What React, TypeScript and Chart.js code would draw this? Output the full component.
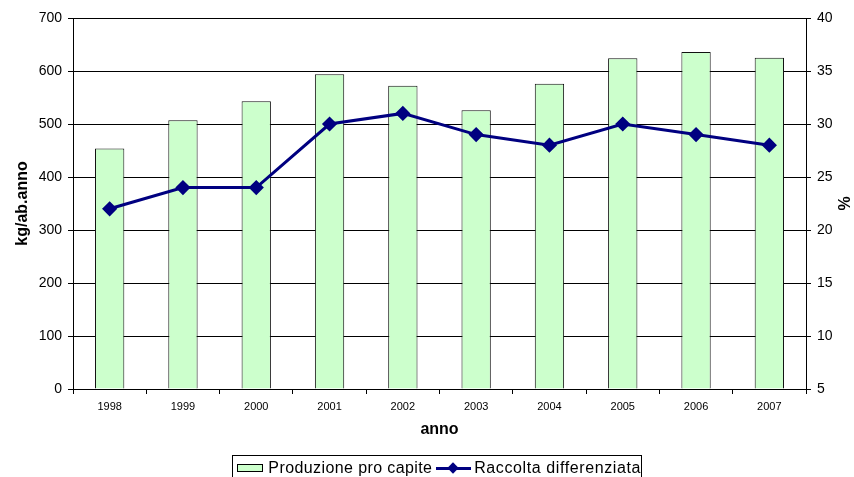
import React, { useEffect, useRef } from "react";
import { Chart, registerables } from "chart.js";

Chart.register(...registerables);

const years = ["1998", "1999", "2000", "2001", "2002", "2003", "2004", "2005", "2006", "2007"];
const produzione = [454, 507, 543, 594, 572, 526, 576, 624, 636, 625];
const raccolta = [22, 24, 24, 30, 31, 29, 28, 30, 29, 28];
const leftTicks = [0, 100, 200, 300, 400, 500, 600, 700];
const rightTicks = [5, 10, 15, 20, 25, 30, 35, 40];

const FONT = "'Liberation Sans', Arial, sans-serif";
const NAVY = "#000080";
const GREEN = "#CCFFCC";

const rightTitlePlugin = {
  id: "rightTitle",
  afterDraw(chart: any) {
    const { ctx, chartArea } = chart;
    ctx.save();
    ctx.translate(846, (chartArea.top + chartArea.bottom) / 2);
    ctx.rotate(-Math.PI / 2);
    ctx.font = `bold 16px ${FONT}`;
    ctx.fillStyle = "#000";
    ctx.textAlign = "center";
    ctx.textBaseline = "middle";
    ctx.fillText("%", 0, 0);
    ctx.restore();
  },
};

export default function App() {
  const canvasRef = useRef<HTMLCanvasElement | null>(null);

  useEffect(() => {
    if (!canvasRef.current) return;
    const chart = new Chart(canvasRef.current, {
      type: "bar",
      data: {
        labels: years,
        datasets: [
          {
            type: "line",
            label: "Raccolta differenziata",
            data: raccolta,
            yAxisID: "y1",
            borderColor: NAVY,
            backgroundColor: NAVY,
            borderWidth: 3,
            pointStyle: "rectRot",
            pointRadius: 5.5,
            pointBackgroundColor: NAVY,
            pointBorderColor: NAVY,
            tension: 0,
            order: 0,
          } as any,
          {
            type: "bar",
            label: "Produzione pro capite",
            data: produzione,
            yAxisID: "y",
            backgroundColor: GREEN,
            borderColor: "#111111",
            borderWidth: 1,
            barPercentage: 0.4,
            categoryPercentage: 1,
            order: 1,
          },
        ],
      },
      options: {
        responsive: false,
        animation: false,
        layout: { padding: { top: 18, left: 0, right: 0, bottom: 0 } },
        plugins: {
          legend: { display: false },
          tooltip: { enabled: false },
        },
        scales: {
          x: {
            offset: true,
            grid: {
              display: true,
              drawOnChartArea: false,
              drawTicks: true,
              tickLength: 5,
              color: "#000",
              offset: true,
            },
            border: { display: true, color: "#000", width: 1 },
            ticks: {
              color: "#000",
              font: { family: FONT, size: 11 },
              padding: 6,
              maxRotation: 0,
            },
            title: {
              display: true,
              text: "anno",
              color: "#000",
              font: { family: FONT, size: 16, weight: "bold" },
              padding: { top: 0, bottom: 38 },
            },
            afterFit(scale: any) {
              scale.height = 88;
            },
          },
          y: {
            position: "left",
            min: 0,
            max: 700,
            afterBuildTicks(scale: any) {
              scale.ticks = leftTicks.map((v) => ({ value: v }));
            },
            grid: {
              color: "#000",
              lineWidth: 1,
              drawTicks: true,
              tickLength: 5,
            },
            border: { display: true, color: "#000", width: 1 },
            ticks: {
              color: "#000",
              font: { family: FONT, size: 14 },
              padding: 6,
            },
            title: {
              display: true,
              text: "kg/ab.anno",
              color: "#000",
              font: { family: FONT, size: 16, weight: "bold" },
              padding: { top: 13, bottom: 0 },
            },
            afterFit(scale: any) {
              scale.width = 73;
            },
          },
          y1: {
            position: "right",
            min: 5,
            max: 40,
            afterBuildTicks(scale: any) {
              scale.ticks = rightTicks.map((v) => ({ value: v }));
            },
            grid: {
              drawOnChartArea: false,
              color: "#000",
              drawTicks: true,
              tickLength: 5,
            },
            border: { display: true, color: "#000", width: 1 },
            ticks: {
              color: "#000",
              font: { family: FONT, size: 14 },
              padding: 6,
            },
            afterFit(scale: any) {
              scale.width = 48;
            },
          },
        },
      },
      plugins: [rightTitlePlugin],
    });
    return () => chart.destroy();
  }, []);

  return (
    <div
      style={{
        position: "fixed",
        left: 0,
        top: 0,
        width: 854,
        height: 477,
        background: "#fff",
        overflow: "hidden",
      }}
    >
      <canvas ref={canvasRef} width={854} height={477} style={{ display: "block" }} />
      <div
        style={{
          position: "absolute",
          left: 232,
          top: 455,
          width: 410,
          height: 24,
          border: "1px solid #000",
          boxSizing: "border-box",
          display: "flex",
          alignItems: "center",
          fontFamily: FONT,
          fontSize: 16,
          color: "#000",
          whiteSpace: "nowrap",
          paddingTop: 1,
        }}
      >
        <span
          style={{
            display: "inline-block",
            width: 28,
            height: 8,
            marginLeft: 4,
            marginRight: 5,
            background: GREEN,
            border: "1px solid #000",
            boxSizing: "border-box",
          }}
        />
        <span style={{ letterSpacing: 0.4 }}>Produzione pro capite</span>
        <span
          style={{
            position: "relative",
            display: "inline-block",
            width: 35,
            height: 12,
            marginLeft: 4,
            marginRight: 5,
          }}
        >
          <span
            style={{
              position: "absolute",
              left: 0,
              top: 5,
              width: 35,
              height: 3,
              background: NAVY,
            }}
          />
          <span
            style={{
              position: "absolute",
              left: 13,
              top: 2,
              width: 8,
              height: 8,
              background: NAVY,
              transform: "rotate(45deg)",
            }}
          />
        </span>
        <span style={{ letterSpacing: 0.6 }}>Raccolta differenziata</span>
      </div>
    </div>
  );
}
